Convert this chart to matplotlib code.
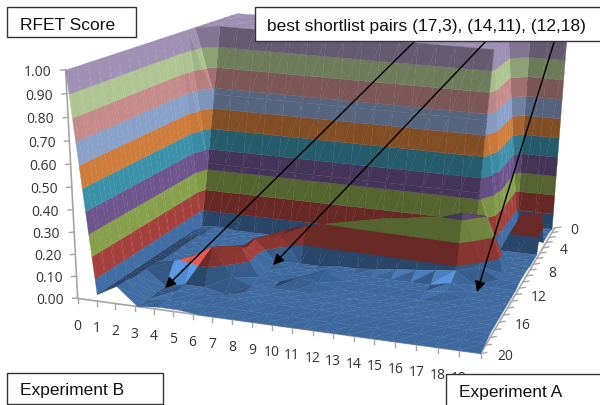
import numpy as np
import matplotlib
matplotlib.use("Agg")
import matplotlib.pyplot as plt
from matplotlib.collections import PolyCollection
from matplotlib.patches import Rectangle

# RFET score, rows are Experiment A 0..20, columns run along Experiment B
z_rows = [
    [1, 1, 1, 1, 1, 1, 1, 1, 1, 1, 1, 1, 1, 1, 1, 1, 1, 1, 1, 1],
    [1, 1, 1, 1, 1, 1, 1, 1, 1, 1, 1, 1, 1, 1, 1, 1, 1, .02, .02, .02],
    [1, 1, 1, 1, 1, 1, 1, 1, 1, 1, 1, 1, 1, 1, 1, 1, 1, .02, .03, .03],
    [1, 1, 1, 1, 1, 1, 1, 1, 1, 1, 1, 1, 1, 1, 1, 1, 1, .02, .03, .03],
    [1, 1, 1, 1, 1, 1, 1, 1, 1, 1, 1, 1, 1, 1, 1, 1, 1, .02, .03, .03],
    [1, 1, 1, 1, 1, 1, 1, 1, 1, 1, 1, 1, 1, 1, 1, 1, 1, .02, .2, .2],
    [1, .67, .67, .67, .67, .67, .67, .67, .67, .67, .67, .67, .67, .67, .67, .67, .67, .02, .02, .02],
    [1, .33, .33, .33, .33, .33, .33, .33, .33, .33, .33, .33, .33, .33, .33, .33, .33, .02, .02, .02],
    [1, .02, .03, .02, .02, .02, .02, .02, .02, .02, .02, .02, .02, .02, .02, .02, .02, .02, .02, .02],
    [1, .03, .05, .03, .03, .03, .03, .03, .03, .03, .03, .03, .03, .03, .03, .03, .03, .05, .03, .03],
    [1, .03, .05, .03, .03, .03, .03, .03, .03, .03, .03, .03, .03, .03, .03, .03, .05, .30, .03, .03],
    [1, .03, .06, .03, .03, .05, .11, .15, .18, .20, .22, .24, .26, .27, .29, .30, .33, .08, .03, .03],
    [1, .03, .06, .03, .03, .06, .13, .15, .02, .02, .03, .03, .04, .05, .06, .07, .08, .02, .02, .02],
    [1, .03, .06, .03, .04, .07, .15, .05, .03, .03, .03, .03, .03, .03, .03, .03, .05, .02, .02, .02],
    [1, .03, .06, .04, .05, .08, .14, .03, .03, .03, .07, .03, .03, .03, .03, .03, .04, .02, .02, .02],
    [1, .03, .06, .05, .07, .12, .17, .03, .02, .05, .04, .02, .02, .02, .02, .02, .02, .02, .02, .02],
    [1, .03, .07, .09, .125, .18, .05, .02, .02, .02, .02, .02, .02, .02, .02, .02, .02, .02, .02, .02],
    [1, .03, .07, 0, .02, .02, 0, .02, .02, .02, .02, .02, .02, .02, .02, .02, .02, .02, .02, .02],
    [1, .03, .07, 0, .02, .02, .02, .02, .02, .02, .02, .02, .02, .02, .02, .02, .02, .02, .02, .02],
    [1, .03, .08, 0, .01, .01, .01, .01, .01, .01, .01, .01, .01, .01, .01, .01, .01, .01, .01, .01],
    [1, .03, .08, 0, .01, .01, 0, 0, 0, 0, 0, 0, 0, 0, 0, 0, 0, 0, 0, 0],
]
Z = np.array(z_rows, dtype=float)

exp_b_ticks = list(range(20))
exp_a_ticks = [0, 4, 8, 12, 16, 20]
score_ticks = [0.0, 0.1, 0.2, 0.3, 0.4, 0.5, 0.6, 0.7, 0.8, 0.9, 1.0]
band_colors = ["#416EA5", "#A5413C", "#87A04B", "#6E558C", "#3C91AA",
               "#CF7D3C", "#89A0C8", "#C58A8A", "#AFC591", "#A091B4"]

# camera fitted from the axis corners seen in the picture
world = [(0, 20, 0), (0, 20, 1), (19, 20, 0), (19, 0, 0), (19, 0, 1), (0, 0, 1)]
pixel = [(78, 300), (66, 70), (480, 355), (555, 228), (567, 42), (237, 15)]
rows = []
for (b, a, s), (u, v) in zip(world, pixel):
    rows.append([b, a, s, 1, 0, 0, 0, 0, -u * b, -u * a, -u * s, -u])
    rows.append([0, 0, 0, 0, b, a, s, 1, -v * b, -v * a, -v * s, -v])
P = np.linalg.svd(np.array(rows))[2][-1].reshape(3, 4)


def project(b, a, s):
    h = P @ np.array([b, a, s, 1.0])
    return h[0] / h[2], h[1] / h[2]


def depth(b, a, s):
    return (P @ np.array([b, a, s, 1.0]))[2]


sign = 1 if depth(0, 0, 0) > depth(19, 20, 0) else -1


def clip(poly, lo, hi):
    # cut a triangle down to one score band
    for limit, keep_above in ((lo, True), (hi, False)):
        out = []
        for i in range(len(poly)):
            p, q = poly[i], poly[(i + 1) % len(poly)]
            dp = (p[2] - limit) if keep_above else (limit - p[2])
            dq = (q[2] - limit) if keep_above else (limit - q[2])
            if dp >= 0:
                out.append(p)
            if dp * dq < 0:
                t = dp / (dp - dq)
                out.append(tuple(p[k] + t * (q[k] - p[k]) for k in range(3)))
        poly = out
        if not poly:
            return []
    return poly


def shade(tri):
    p = np.array(tri) * np.array([1.0, 1.0, 20.0])
    n = np.cross(p[1] - p[0], p[2] - p[0])
    n = n / (np.linalg.norm(n) + 1e-9)
    if n[2] < 0:
        n = -n
    nb, na, nz = n
    f = 0.97 * nz ** 2 + 0.62 * na ** 2
    if nb > 0:
        f += nb ** 2
    elif nb < -0.15:
        f += -nb * (-0.2 + 4.0 * max(na, 0))
    return float(np.clip(f, 0.6, 1.4))


tris = []
for i in range(Z.shape[0] - 1):
    for j in range(Z.shape[1] - 1):
        c = [(j, i, Z[i, j]), (j + 1, i, Z[i, j + 1]), (j + 1, i + 1, Z[i + 1, j + 1]), (j, i + 1, Z[i + 1, j])]
        tris.append([c[0], c[1], c[3]])
        tris.append([c[1], c[2], c[3]])
tris.sort(key=lambda t: -sign * np.mean([depth(*v) for v in t]))

polys, colors = [], []
for tri in tris:
    f = shade(tri)
    for k, col in enumerate(band_colors):
        piece = clip(tri, score_ticks[k], score_ticks[k + 1] + (0.01 if k == 9 else 0))
        if len(piece) >= 3:
            polys.append([project(*v) for v in piece])
            colors.append(np.clip(np.array(matplotlib.colors.to_rgb(col)) * f, 0, 1))

fig = plt.figure(figsize=(6, 4.06), dpi=100)
ax = fig.add_axes([0, 0, 1, 1])
ax.set_xlim(0, 600)
ax.set_ylim(406, 0)
ax.axis("off")

# axes and ticks
grey = "#A6A6A6"
for a_pt, b_pt in [((0, 20, 0), (0, 20, 1)), ((0, 20, 0), (19, 20, 0)), ((19, 20, 0), (19, 0, 0))]:
    xs, ys = zip(project(*a_pt), project(*b_pt))
    ax.plot(xs, ys, color=grey, lw=1.2, zorder=1)
ax.add_collection(PolyCollection(polys, facecolors=colors, edgecolors=colors, linewidths=0.25, zorder=2))

lab = {"fontfamily": "Open Sans", "fontsize": 10, "color": "#333333", "zorder": 3}
for s in score_ticks:
    x, y = project(0, 20, s)
    ax.plot([x - 5, x], [y, y - 0.5], color=grey, lw=1.0, zorder=1)
    ax.text(x - 14, y + 1, f"{s:.2f}", ha="right", va="center", **lab)
# the B axis has one more tick than labels
for t in range(21):
    x, y = project(t * 19 / 20, 20, 0)
    ax.plot([x, x], [y, y + 5], color=grey, lw=1.0, zorder=1)
    if t in exp_b_ticks:
        ax.text(x, y + 27, str(t), ha="center", va="center", **lab)
for a in range(21):
    x, y = project(19, a, 0)
    ax.plot([x, x + 6], [y, y - 1], color=grey, lw=1.0, zorder=1)
for a in exp_a_ticks:
    x, y = project(19, a, 0)
    ax.text(x + 20 + a * 0.25, y + 2, str(a), ha="center", va="center", **lab)

# text boxes
box_font = {"fontfamily": "Liberation Sans", "fontsize": 12.5, "color": "#111111", "zorder": 6, "va": "center"}
for x0, y0, w, h, txt, tx, ty in [(7, 8, 129, 30, "RFET Score", 20, 25),
                                  (255, 8, 360, 34, "best shortlist pairs (17,3), (14,11), (12,18)", 267, 26),
                                  (7, 374, 156, 31, "Experiment B", 20, 391),
                                  (446, 375, 170, 40, "Experiment A", 459, 393)]:
    ax.add_patch(Rectangle((x0, y0), w, h, fc="white", ec="#333333", lw=1.0, zorder=5))
    ax.text(tx, ty, txt, **box_font)

# arrows from the shortlist box
for start, tip in [((423, 34), (165, 289)), ((489, 39), (273, 266)), ((555, 40), (477, 293))]:
    ax.annotate("", xy=tip, xytext=start,
                arrowprops=dict(arrowstyle="-|>", color="black", lw=1.0, mutation_scale=16,
                                shrinkA=0, shrinkB=0), zorder=4)

fig.savefig("out.png", dpi=100)
